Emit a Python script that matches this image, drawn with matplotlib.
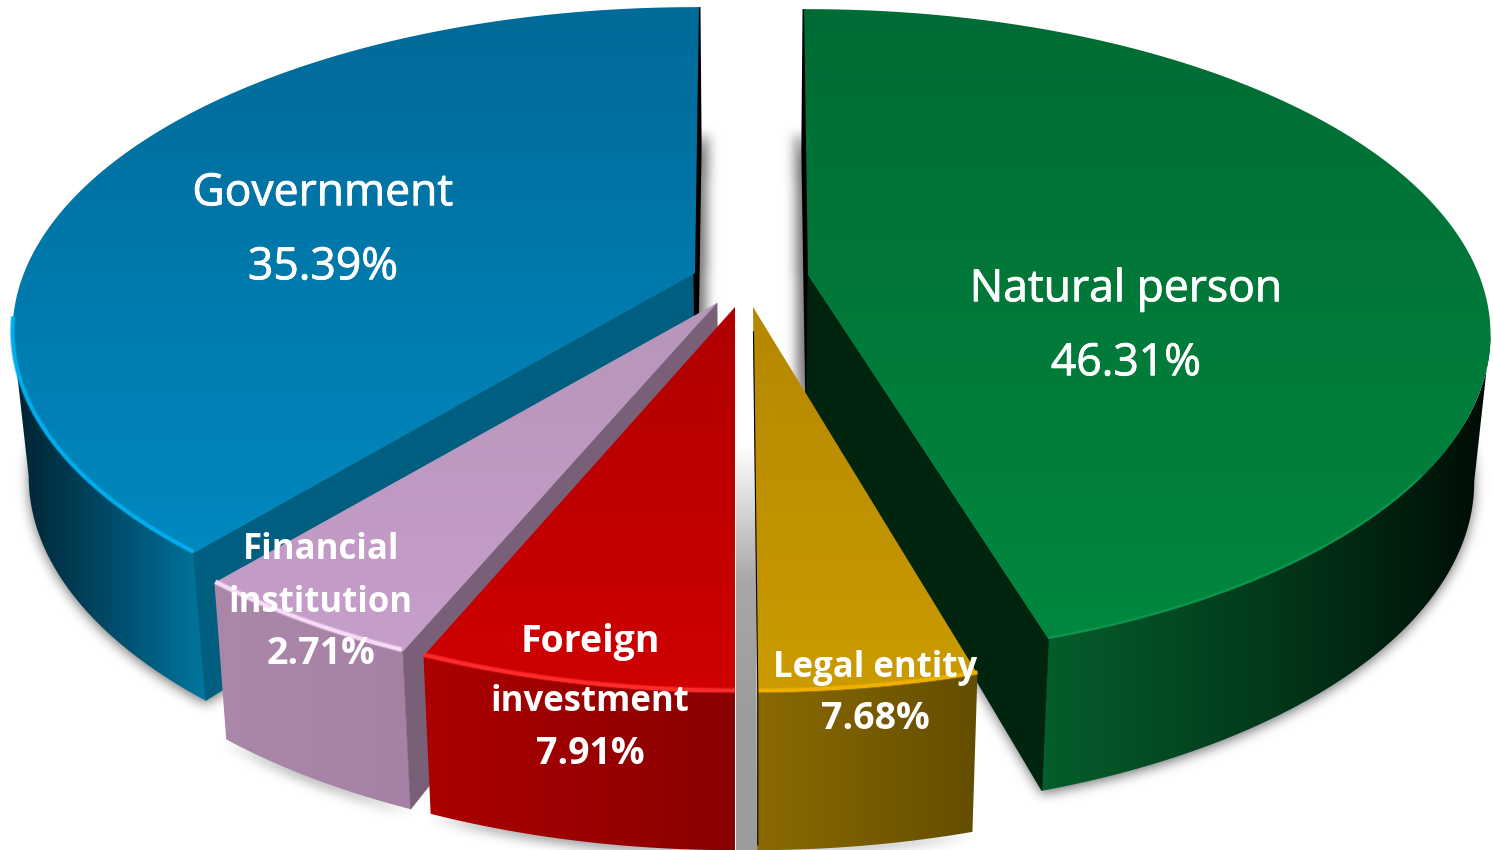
import numpy as np
import matplotlib
matplotlib.use('Agg')
import matplotlib.pyplot as plt
import matplotlib.patheffects as pe
from matplotlib.colors import LinearSegmentedColormap
from matplotlib.patches import Polygon
from matplotlib.path import Path

# clockwise from 12 o'clock, as the slices sit in the picture
names = ['Natural person', 'Legal entity', 'Foreign\ninvestment', 'Financial\ninstitution', 'Government']
printed_pct = ['46.31%', '7.68%', '7.91%', '2.71%', '35.39%']
# where each slice's arc starts and ends in the picture, degrees (not the printed numbers)
arc_start = [-0.4, 164.0, 180.0, 202.9, 220.0]
arc_end = [162.8, 179.7, 202.7, 220.1, 360.4]

apex_x = [808, 753, 735, 717, 695]
apex_y = [275, 307, 307, 303, 273]

label_x = [1126, 875, 590, 321, 323]
label_lines = [[('Natural person', 290, 32), ('46.31%', 364, 32)],
               [('Legal entity', 668, 25), ('7.68%', 719, 27)],
               [('Foreign', 642, 27), ('investment', 702, 25), ('7.91%', 754, 27)],
               [('Financial', 550, 25), ('institution', 603, 25), ('2.71%', 654, 27)],
               [('Government', 194, 32), ('35.39%', 268, 32)]]
label_weight = ['normal', 'bold', 'bold', 'bold', 'normal']

top_cols = [['#006C35', '#00873F'], ['#B48700', '#CB9B00'], ['#B00000', '#CF0000'],
            ['#B795B9', '#C69ECA'], ['#006A98', '#0089C0']]
wall_cols = [['#055E2C', '#023A1A', '#000C05'], ['#8C6A00', '#634D00'], ['#AC0000', '#8A0000'],
             ['#AB87AA', '#A582A4'], ['#00222F', '#004A68', '#00769F']]
cut_cols = ['#00240E', '#6A5200', '#8A0000', '#7A5F78', '#005F80']
rim_cols = ['#0A9A4E', '#F0B000', '#FF2A2A', '#F6DAF6', '#00AEEF']
rim_from = [125, 164, 180, 203, 220]
rim_to = [162.8, 179.7, 202.7, 220, 262]
rim_lw = [1.0, 2.4, 2.6, 2.6, 2.4]
wall_depth = [146, 152, 152, 152, 143]

A, B, P = 671, 314.5, 0.183
MID_X = 750
W, H = 1493, 850


def project(i, theta, z=0.0):
    t = np.radians(theta)
    w = 1 + P * np.cos(t)
    x = apex_x[i] + A * np.sin(t) / w
    y = apex_y[i] - B * np.cos(t) / w
    return MID_X + (x - MID_X) * (1 - 0.022 * z), y + z * wall_depth[i] / w ** 0.2


def apex(i, z=0.0):
    return MID_X + (apex_x[i] - MID_X) * (1 - 0.022 * z), apex_y[i] + z * 120.0


def gradient(ax, verts, cols, vertical=True, zorder=2):
    patch = Polygon(verts, closed=True, fc='none', ec='none', zorder=zorder)
    ax.add_patch(patch)
    rgba = LinearSegmentedColormap.from_list('g', cols)(np.linspace(0, 1, 256))
    x0, y0 = verts.min(axis=0)
    x1, y1 = verts.max(axis=0)
    img = rgba[:, None, :] if vertical else rgba[None, :, :]
    im = ax.imshow(img, extent=(x0, x1, y1, y0), aspect='auto', zorder=zorder,
                   interpolation='bilinear')
    im.set_clip_path(patch)


def blurred_shadow(ax, polys, sigma=6.0, strength=0.55):
    pad = 40
    gx, gy = np.meshgrid(np.arange(-pad, W + pad) + 0.5, np.arange(-pad, H + pad) + 0.5)
    pts = np.column_stack([gx.ravel(), gy.ravel()])
    mask = np.zeros(gx.shape)
    for p in polys:
        mask = np.maximum(mask, Path(p).contains_points(pts).reshape(gx.shape).astype(float))
    fy = np.fft.fftfreq(gx.shape[0])[:, None]
    fx = np.fft.rfftfreq(gx.shape[1])[None, :]
    kernel = np.exp(-2 * (np.pi * sigma) ** 2 * (fx ** 2 + fy ** 2))
    soft = np.fft.irfft2(np.fft.rfft2(mask) * kernel, s=mask.shape)
    rgba = np.zeros(gx.shape + (4,))
    rgba[..., 3] = np.clip(soft, 0, 1) * strength
    ax.imshow(rgba, extent=(-pad, W + pad, H + pad, -pad), aspect='auto', zorder=1,
              interpolation='bilinear')


fig = plt.figure(figsize=(14.93, 8.5), dpi=100)
ax = fig.add_axes([0, 0, 1, 1])
ax.set_xlim(0, W)
ax.set_ylim(H, 0)
ax.set_autoscale_on(False)
ax.axis('off')

# soft floor shadows
floor = []
for i in range(5):
    bx, by = project(i, np.linspace(arc_start[i], arc_end[i], 160), 1.0)
    if i in (0, 4):
        ox2, oy2 = apex(i, 1.0)
        bx, by = np.r_[ox2, bx], np.r_[oy2, by]
    floor.append(np.column_stack([bx, by + 3]))
# strips beside the centre gap, under the two big slices
for i, side, e in ((0, -1, arc_start[0]), (4, 1, arc_end[4])):
    ox2, oy2 = apex(i, 1.0)
    ex, _ = project(i, e)
    floor.append(np.array([[ex, 136], [ex + side * 9, 136], [ox2 + side * 9, oy2], [ox2, oy2]]))
blurred_shadow(ax, floor)

# grey band in the gap between foreign and legal
band = np.array([[736, 445], [756, 445], [757, 850], [736, 850]], dtype=float)
gradient(ax, band, ['#FFFFFF', '#A8A8A8', '#9C9C9C', '#9C9C9C'], zorder=1.5)

z = 2
for i in [4, 0, 3, 2, 1]:
    tx, ty = project(i, np.linspace(arc_start[i], arc_end[i], 200))
    ox, oy = apex(i)
    ox2, oy2 = apex(i, 1.0)

    # outer wall, front facing part only
    tw = np.linspace(max(arc_start[i], 100.5), min(arc_end[i], 259.5), 160)
    wx, wy = project(i, tw)
    bx, by = project(i, tw, 1.0)
    wall = np.column_stack([np.r_[wx, bx[::-1]], np.r_[wy, by[::-1]]])
    gradient(ax, wall, wall_cols[i], vertical=False, zorder=z)

    # cut faces: front ones in colour, the back ones of the big slices as a black edge
    for e in (arc_start[i], arc_end[i]):
        ex, ey = project(i, e)
        fx, fy = project(i, e, 1.0)
        face = [[ox, oy], [ex, ey], [fx, fy], [ox2, oy2]]
        front = (i == 4 and e == arc_start[4]) or (i == 0 and e == arc_end[0]) or (i == 3 and e == arc_start[3])
        back = (i == 4 and e == arc_end[4]) or (i == 0 and e == arc_start[0])
        if front:
            ax.add_patch(Polygon(face, closed=True, fc=cut_cols[i], ec=cut_cols[i], lw=0.5, zorder=z + 0.1))
        if back:
            ax.add_patch(Polygon(face, closed=True, fc='k', ec='k', lw=2.2, zorder=z + 0.1))

    # top face
    gradient(ax, np.column_stack([np.r_[ox, tx], np.r_[oy, ty]]), top_cols[i], zorder=z + 0.2)

    # lit rim along the front edge
    rx, ry = project(i, np.linspace(rim_from[i], rim_to[i], 120))
    ax.plot(rx, ry - 1.5, color=rim_cols[i], lw=rim_lw[i] * 1.6, alpha=0.4, zorder=z + 0.3,
            solid_capstyle='butt')
    ax.plot(rx, ry - 1.5, color=rim_cols[i], lw=rim_lw[i], zorder=z + 0.3, solid_capstyle='butt')
    z += 1

# thin black line on the left edge of legal entity
lx, ly = project(1, arc_end[1])
ax.plot([apex_x[1] + 0.5, lx + 0.5, lx + 0.5], [apex_y[1] + 25, ly, 845], color='k', lw=0.8, zorder=z)

for i in range(5):
    for txt, y, size in label_lines[i]:
        t = ax.text(label_x[i], y, txt, ha='center', va='center', color='white',
                    fontsize=size, fontweight=label_weight[i], family='Open Sans', zorder=50)
        if label_weight[i] == 'normal':
            t.set_path_effects([pe.withStroke(linewidth=0.6, foreground='white')])

fig.savefig('out.png', dpi=100)
